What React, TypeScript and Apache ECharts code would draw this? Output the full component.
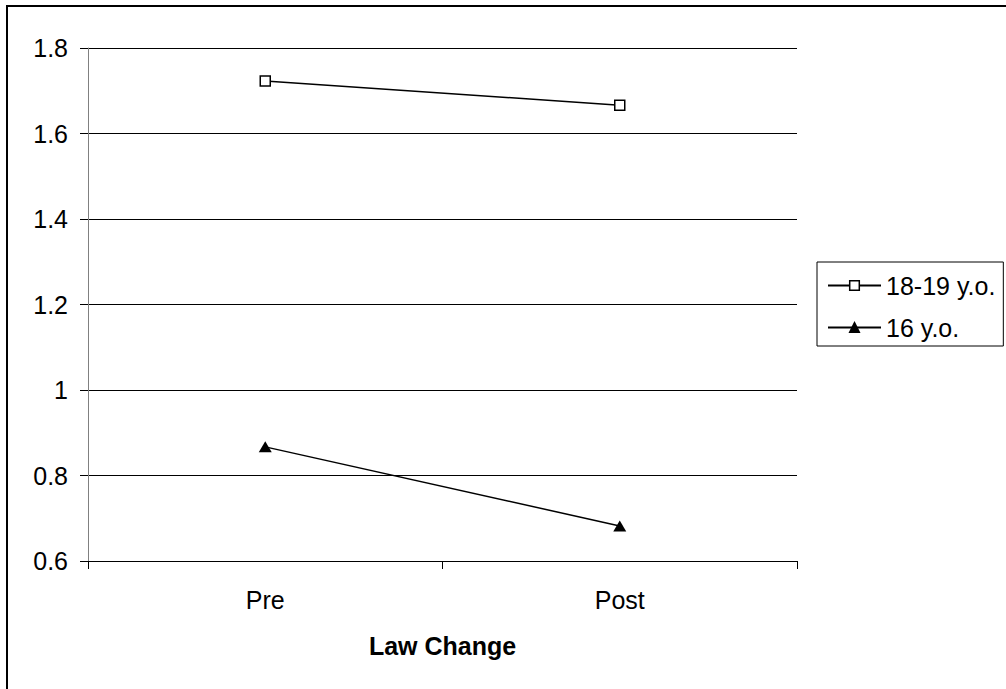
import React, { useEffect, useRef } from "react";
import * as echarts from "echarts";

const categories = ["Pre", "Post"];
const seriesNames = ["18-19 y.o.", "16 y.o."];
const olderValues = [1.723, 1.666];
const youngerValues = [0.867, 0.682];
const yMin = 0.6;
const yMax = 1.8;
const yStep = 0.2;
const xAxisTitle = "Law Change";

const FONT = "'Liberation Sans', Arial, sans-serif";

export default function App() {
  const ref = useRef<HTMLDivElement>(null);
  useEffect(() => {
    document.body.style.margin = "0";
    const chart = echarts.init(ref.current!, null, { renderer: "svg" });
    chart.setOption({
      animation: false,
      backgroundColor: "#ffffff",
      textStyle: { fontFamily: FONT },
      grid: { left: 88, right: 209, top: 48, bottom: 128, containLabel: false },
      graphic: [
        { type: "line", shape: { x1: 6, y1: 6, x2: 1006, y2: 6 }, style: { stroke: "#000", lineWidth: 2 } },
        { type: "line", shape: { x1: 7, y1: 5, x2: 7, y2: 689 }, style: { stroke: "#000", lineWidth: 2 } },
      ],
      legend: {
        orient: "vertical",
        left: 817,
        top: 262,
        padding: [11, 8, 6, 10],
        itemGap: 17,
        itemWidth: 53,
        itemHeight: 12,
        borderColor: "#000",
        borderWidth: 1,
        itemStyle: { borderWidth: 1.5 },
        textStyle: { fontSize: 25, color: "#000", fontFamily: FONT, padding: [0, 0, 0, 0] },
        data: seriesNames,
      },
      xAxis: {
        type: "category",
        data: categories,
        boundaryGap: true,
        axisLine: { lineStyle: { color: "#000", width: 1 } },
        axisTick: { show: true, length: 8, lineStyle: { color: "#000" } },
        axisLabel: { fontSize: 25, color: "#000", margin: 26, fontFamily: FONT },
        name: xAxisTitle,
        nameLocation: "middle",
        nameGap: 72,
        nameTextStyle: { fontSize: 25, fontWeight: "bold", color: "#000", fontFamily: FONT },
      },
      yAxis: {
        type: "value",
        min: yMin,
        max: yMax,
        interval: yStep,
        axisLine: { show: true, lineStyle: { color: "#808080", width: 1 } },
        axisTick: { show: true, length: 8, lineStyle: { color: "#000" } },
        axisLabel: {
          fontSize: 25,
          color: "#000",
          margin: 20,
          fontFamily: FONT,
          formatter: (v: number) => String(+v.toFixed(1)),
        },
        splitLine: { show: true, lineStyle: { color: "#000", width: 1 } },
      },
      series: [
        {
          name: seriesNames[0],
          type: "line",
          data: olderValues,
          symbol: "rect",
          symbolSize: 10,
          lineStyle: { color: "#000", width: 1.5 },
          itemStyle: { color: "#fff", borderColor: "#000", borderWidth: 1.5 },
        },
        {
          name: seriesNames[1],
          type: "line",
          data: youngerValues,
          symbol: "triangle",
          symbolSize: [13, 11],
          lineStyle: { color: "#000", width: 1.5 },
          itemStyle: { color: "#000", borderColor: "#000", borderWidth: 0 },
        },
      ],
    });
    return () => chart.dispose();
  }, []);
  return <div ref={ref} style={{ width: 1006, height: 689 }} />;
}
